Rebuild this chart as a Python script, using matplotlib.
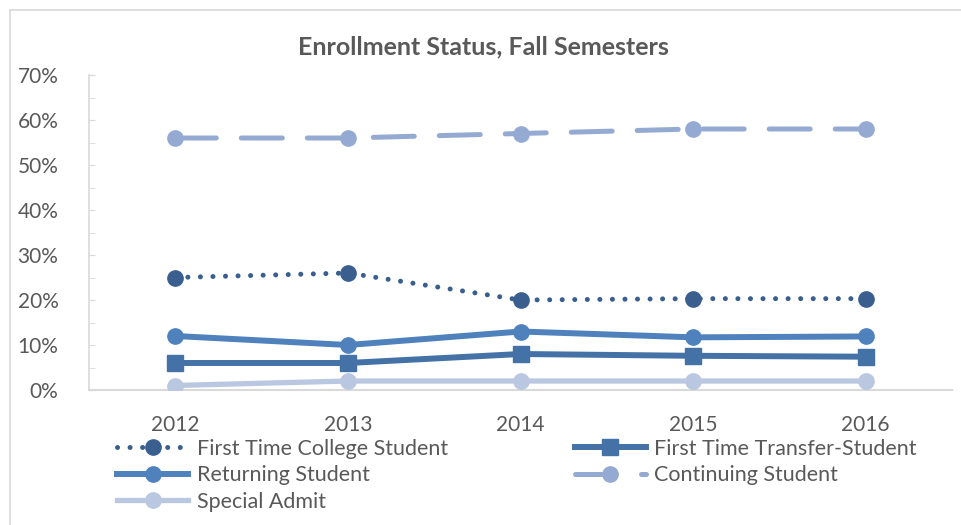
import matplotlib
matplotlib.use("Agg")
import matplotlib.pyplot as plt
from matplotlib.lines import Line2D
from matplotlib.ticker import MultipleLocator, FuncFormatter

years = ["2012", "2013", "2014", "2015", "2016"]
first_time_college = [25.0, 26.0, 20.0, 20.3, 20.3]
first_time_transfer = [6.0, 6.0, 8.0, 7.6, 7.4]
returning = [12.0, 10.0, 13.0, 11.7, 11.9]
continuing = [56.0, 56.0, 57.0, 58.0, 58.0]
special_admit = [1.0, 2.0, 2.0, 2.0, 2.0]

plt.rcParams['font.family'] = ['Lato', 'DejaVu Sans']

W, H = 961, 525
fig = plt.figure(figsize=(W / 100, H / 100), dpi=100)
ax = fig.add_axes([89 / W, 1 - 390 / H, (952 - 89) / W, (390 - 75) / H])

x = list(range(len(years)))
grey = '#595959'

h1, = ax.plot(x, first_time_college, color='#3A5F8F', lw=3.6, ls=(0, (0.01, 2.5)),
              dash_capstyle='round', marker='o', ms=11, label='First Time College Student', zorder=5)
h2, = ax.plot(x, first_time_transfer, color='#4472A6', lw=4.3, marker='s', ms=11.5,
              label='First Time Transfer-Student', zorder=4)
h3, = ax.plot(x, returning, color='#4F81BD', lw=4.3, marker='o', ms=11, label='Returning Student', zorder=4)
h4, = ax.plot(x, continuing, color='#95AAD3', lw=3.6, ls=(0, (8.2, 5)), dash_capstyle='round',
              marker='o', ms=11, label='Continuing Student', zorder=4)
h5, = ax.plot(x, special_admit, color='#BAC7E1', lw=3.8, marker='o', ms=11, label='Special Admit', zorder=3)

ax.set_xlim(-0.5, len(years) - 0.5)
ax.set_ylim(0, 70)
ax.set_xticks(x)
ax.set_xticklabels(years)
ax.yaxis.set_major_locator(MultipleLocator(10))
ax.yaxis.set_minor_locator(MultipleLocator(5))
ax.yaxis.set_major_formatter(FuncFormatter(lambda v, p: f"{int(v)}%"))

for s in ['top', 'right']:
    ax.spines[s].set_visible(False)
ax.spines['left'].set_color('#D9D9D9')
ax.spines['bottom'].set_color('#D9D9D9')
ax.spines['left'].set_linewidth(1.2)
ax.spines['bottom'].set_linewidth(1.5)

ax.tick_params(axis='x', length=0, pad=18, labelsize=15, labelcolor=grey)
ax.tick_params(axis='y', which='both', direction='in', length=4, color='#D9D9D9',
               pad=22, labelsize=15, labelcolor=grey)

fig.text(483 / W, 1 - 47 / H, "Enrollment Status, Fall Semesters", ha='center', va='center',
         fontsize=18, fontweight='bold', color=grey)

handles = [h1, h3, h5, h2, h4]
leg = ax.legend(handles=handles, labels=[h.get_label() for h in handles],
                loc='upper left', bbox_to_anchor=(117 / W, 1 - 439 / H), bbox_transform=fig.transFigure,
                ncol=2, frameon=False, fontsize=15.5, handlelength=3.3, handletextpad=0.4,
                columnspacing=5.9, labelspacing=0.3, borderaxespad=0, borderpad=0)
for t in leg.get_texts():
    t.set_color(grey)

# chart border (left and top visible)
fig.add_artist(Line2D([10 / W, 10 / W], [0, 1 - 10 / H], transform=fig.transFigure, color='#D9D9D9', lw=1.2))
fig.add_artist(Line2D([10 / W, 1], [1 - 10 / H, 1 - 10 / H], transform=fig.transFigure, color='#D9D9D9', lw=1.2))

fig.savefig("out.png", dpi=100)
